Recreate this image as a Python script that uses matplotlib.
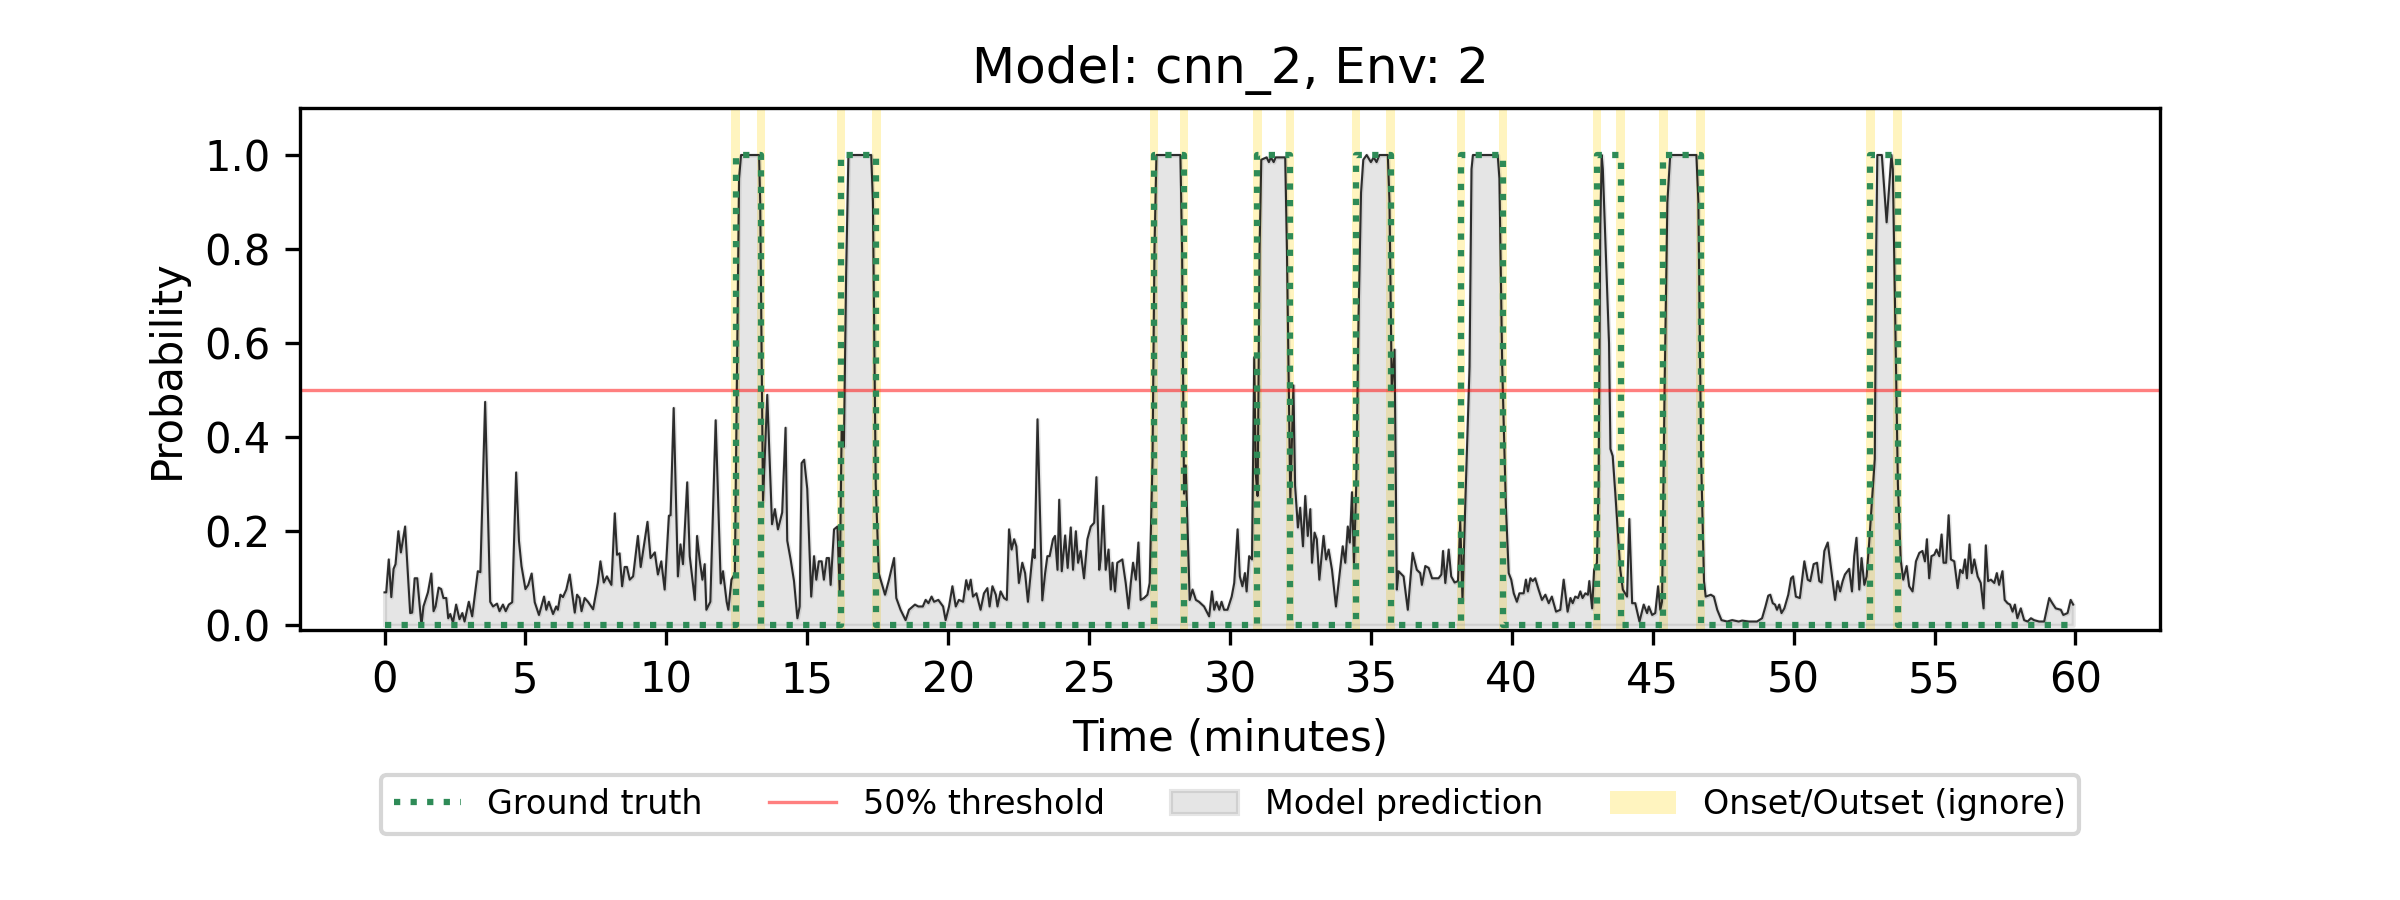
import numpy as np
import matplotlib
matplotlib.use("Agg")
import matplotlib.pyplot as plt

# Ground-truth events (minutes): onset / offset
onsets = [12.46, 16.2, 27.3, 30.97, 34.47, 38.2, 43.03, 45.38, 52.72]
offsets = [13.36, 17.45, 28.36, 32.12, 35.7, 39.69, 43.86, 46.7, 53.69]

# Model prediction (time in minutes, probability)
pred_t = [
    0.0, 0.06, 0.15, 0.24, 0.32, 0.39, 0.49, 0.58, 0.73, 0.91, 0.98, 1.07, 1.16, 1.31, 1.38,
    1.54, 1.66, 1.74, 1.81, 1.92, 2.01, 2.09, 2.19, 2.26, 2.33, 2.43, 2.54, 2.66, 2.76, 2.84,
    2.99, 3.11, 3.31, 3.40, 3.57, 3.75, 3.85, 3.99, 4.08, 4.2, 4.3, 4.41, 4.53, 4.67, 4.77,
    4.86, 5.0, 5.1, 5.22, 5.33, 5.48, 5.66, 5.74, 5.83, 5.98, 6.09, 6.15, 6.24, 6.33, 6.45,
    6.57, 6.75, 6.83, 6.92, 6.99, 7.1, 7.22, 7.4, 7.57, 7.66, 7.78, 7.89, 8.05, 8.17, 8.25,
    8.34, 8.43, 8.52, 8.6, 8.7, 8.82, 8.99, 9.09, 9.2, 9.33, 9.44, 9.59, 9.7, 9.82, 9.94,
    10.09, 10.15, 10.26, 10.41, 10.5, 10.59, 10.74, 10.83, 11.01, 11.09, 11.18, 11.28, 11.36, 11.42, 11.56,
    11.75, 11.93, 12.01, 12.14, 12.2, 12.31, 12.43, 12.5, 12.58, 12.65, 13.29, 13.33, 13.43, 13.58, 13.75,
    13.85, 13.96, 14.11, 14.23, 14.29, 14.41, 14.53, 14.65, 14.73, 14.8, 14.89, 15.0, 15.14, 15.24, 15.32,
    15.41, 15.51, 15.59, 15.69, 15.77, 15.83, 15.95, 16.07, 16.15, 16.22, 16.3, 16.38, 16.46, 17.27, 17.33,
    17.43, 17.54, 17.76, 17.9, 18.08, 18.16, 18.31, 18.49, 18.61, 18.82, 18.94, 19.1, 19.2, 19.3, 19.41,
    19.5, 19.65, 19.82, 19.91, 20.03, 20.15, 20.27, 20.38, 20.53, 20.64, 20.72, 20.8, 20.88, 21.0, 21.15,
    21.27, 21.39, 21.47, 21.57, 21.69, 21.75, 21.86, 21.98, 22.08, 22.16, 22.25, 22.34, 22.42, 22.51, 22.63,
    22.73, 22.83, 22.93, 23.01, 23.07, 23.17, 23.34, 23.44, 23.52, 23.6, 23.72, 23.79, 23.88, 23.94, 24.03,
    24.15, 24.24, 24.35, 24.43, 24.53, 24.61, 24.7, 24.82, 24.94, 25.06, 25.18, 25.26, 25.36, 25.41, 25.5,
    25.59, 25.69, 25.77, 25.83, 25.92, 26.0, 26.18, 26.3, 26.4, 26.48, 26.56, 26.66, 26.75, 26.83, 26.95,
    27.07, 27.15, 27.25, 27.32, 27.39, 28.24, 28.3, 28.37, 28.43, 28.57, 28.67, 28.79, 28.9, 29.08, 29.26,
    29.36, 29.44, 29.52, 29.62, 29.7, 29.79, 29.91, 30.06, 30.15, 30.27, 30.35, 30.44, 30.53, 30.59, 30.68,
    30.78, 30.86, 30.92, 30.98, 31.05, 31.11, 31.3, 31.38, 31.45, 31.55, 31.62, 31.96, 32.02, 32.14, 32.25,
    32.31, 32.41, 32.49, 32.59, 32.67, 32.76, 32.85, 32.91, 33.0, 33.08, 33.17, 33.32, 33.41, 33.5, 33.62,
    33.76, 33.88, 34.0, 34.09, 34.18, 34.25, 34.33, 34.4, 34.48, 34.56, 34.65, 34.73, 34.85, 35.0, 35.1,
    35.2, 35.3, 35.6, 35.66, 35.74, 35.84, 35.92, 35.98, 36.16, 36.31, 36.48, 36.63, 36.75, 36.81, 36.93,
    37.05, 37.17, 37.4, 37.5, 37.56, 37.64, 37.76, 37.85, 37.97, 38.09, 38.17, 38.25, 38.36, 38.5, 38.57,
    38.62, 39.5, 39.56, 39.66, 39.79, 39.89, 39.98, 40.07, 40.18, 40.27, 40.42, 40.5, 40.57, 40.66, 40.74,
    40.83, 40.95, 41.07, 41.19, 41.31, 41.42, 41.57, 41.72, 41.84, 41.98, 42.08, 42.16, 42.25, 42.35, 42.43,
    42.51, 42.61, 42.7, 42.75, 42.85, 42.92, 43.02, 43.08, 43.14, 43.19, 43.23, 43.45, 43.5, 43.58, 43.67,
    43.77, 43.85, 43.94, 44.09, 44.17, 44.27, 44.38, 44.53, 44.68, 44.8, 44.86, 44.98, 45.09, 45.19, 45.27,
    45.33, 45.42, 45.52, 45.62, 46.55, 46.62, 46.72, 46.82, 46.88, 47.06, 47.17, 47.29, 47.44, 47.64, 47.82,
    48.05, 48.17, 48.41, 48.7, 48.88, 49.0, 49.1, 49.17, 49.26, 49.34, 49.41, 49.49, 49.57, 49.67, 49.81,
    49.91, 49.98, 50.08, 50.22, 50.38, 50.5, 50.59, 50.71, 50.83, 50.91, 50.99, 51.09, 51.21, 51.35, 51.47,
    51.56, 51.65, 51.74, 51.82, 51.97, 52.07, 52.15, 52.23, 52.33, 52.41, 52.51, 52.59, 52.68, 52.8, 52.88,
    52.93, 52.97, 53.13, 53.3, 53.47, 53.52, 53.62, 53.7, 53.8, 53.89, 54.01, 54.1, 54.22, 54.34, 54.46,
    54.57, 54.66, 54.73, 54.81, 54.89, 54.99, 55.07, 55.17, 55.25, 55.32, 55.41, 55.5, 55.58, 55.7, 55.82,
    55.91, 56.0, 56.08, 56.15, 56.24, 56.32, 56.41, 56.53, 56.64, 56.74, 56.82, 56.9, 57.0, 57.12, 57.21,
    57.29, 57.41, 57.49, 57.59, 57.68, 57.77, 57.85, 57.94, 58.06, 58.18, 58.3, 58.42, 58.53, 58.71, 58.89,
    59.07, 59.18, 59.3, 59.48, 59.57, 59.72, 59.83, 59.92,
]
pred_p = [
    0.07, 0.07, 0.14, 0.06, 0.12, 0.13, 0.2, 0.155, 0.21, 0.026, 0.027, 0.1, 0.1, 0.0, 0.04,
    0.07, 0.11, 0.03, 0.04, 0.08, 0.077, 0.058, 0.058, 0.015, 0.024, 0.006, 0.044, 0.013, 0.026, 0.008,
    0.05, 0.019, 0.115, 0.113, 0.475, 0.05, 0.04, 0.046, 0.03, 0.044, 0.03, 0.044, 0.049, 0.325, 0.18,
    0.126, 0.077, 0.086, 0.11, 0.049, 0.022, 0.061, 0.033, 0.05, 0.024, 0.04, 0.033, 0.065, 0.06, 0.076,
    0.108, 0.027, 0.065, 0.058, 0.03, 0.058, 0.05, 0.034, 0.09, 0.136, 0.091, 0.104, 0.086, 0.238, 0.15,
    0.153, 0.083, 0.124, 0.124, 0.097, 0.104, 0.19, 0.124, 0.168, 0.22, 0.143, 0.155, 0.108, 0.136, 0.076,
    0.233, 0.234, 0.462, 0.104, 0.172, 0.13, 0.304, 0.147, 0.054, 0.19, 0.14, 0.097, 0.13, 0.033, 0.05,
    0.436, 0.089, 0.115, 0.05, 0.033, 0.097, 0.11, 0.5, 0.95, 1.0, 1.0, 0.9, 0.265, 0.49, 0.215,
    0.247, 0.204, 0.24, 0.42, 0.18, 0.14, 0.094, 0.015, 0.04, 0.345, 0.352, 0.29, 0.061, 0.147, 0.097,
    0.136, 0.136, 0.097, 0.143, 0.143, 0.086, 0.204, 0.21, 0.072, 0.42, 0.38, 0.75, 1.0, 1.0, 0.9,
    0.3, 0.11, 0.065, 0.097, 0.143, 0.058, 0.033, 0.011, 0.033, 0.044, 0.04, 0.04, 0.054, 0.047, 0.061,
    0.05, 0.054, 0.04, 0.011, 0.04, 0.083, 0.04, 0.054, 0.05, 0.096, 0.076, 0.097, 0.061, 0.068, 0.033,
    0.068, 0.079, 0.04, 0.083, 0.065, 0.04, 0.072, 0.058, 0.054, 0.204, 0.161, 0.183, 0.168, 0.09, 0.133,
    0.111, 0.05, 0.111, 0.161, 0.143, 0.438, 0.053, 0.111, 0.147, 0.147, 0.183, 0.19, 0.118, 0.267, 0.115,
    0.191, 0.122, 0.208, 0.118, 0.2, 0.133, 0.158, 0.1, 0.183, 0.21, 0.218, 0.315, 0.118, 0.14, 0.254,
    0.118, 0.161, 0.076, 0.133, 0.072, 0.133, 0.14, 0.09, 0.036, 0.09, 0.133, 0.097, 0.176, 0.054, 0.058,
    0.065, 0.09, 0.35, 0.8, 1.0, 1.0, 0.8, 0.28, 0.34, 0.054, 0.076, 0.054, 0.05, 0.04, 0.019,
    0.072, 0.033, 0.05, 0.033, 0.05, 0.033, 0.033, 0.061, 0.09, 0.204, 0.104, 0.083, 0.111, 0.072, 0.147,
    0.14, 0.57, 0.318, 0.275, 0.8, 0.99, 0.995, 0.985, 0.995, 0.985, 0.995, 0.995, 0.8, 0.268, 0.51,
    0.297, 0.208, 0.25, 0.168, 0.275, 0.19, 0.247, 0.133, 0.197, 0.183, 0.097, 0.19, 0.14, 0.161, 0.118,
    0.04, 0.104, 0.168, 0.133, 0.21, 0.176, 0.283, 0.133, 0.3, 0.65, 0.92, 0.99, 1.0, 0.985, 0.995,
    0.985, 1.0, 1.0, 0.9, 0.5, 0.586, 0.076, 0.115, 0.104, 0.033, 0.154, 0.118, 0.111, 0.086, 0.126,
    0.122, 0.1, 0.1, 0.108, 0.158, 0.09, 0.161, 0.104, 0.091, 0.094, 0.222, 0.054, 0.28, 0.55, 0.97,
    1.0, 1.0, 0.95, 0.55, 0.254, 0.111, 0.097, 0.068, 0.05, 0.068, 0.068, 0.097, 0.072, 0.1, 0.094,
    0.1, 0.076, 0.054, 0.065, 0.047, 0.061, 0.029, 0.033, 0.097, 0.029, 0.058, 0.047, 0.061, 0.058, 0.072,
    0.058, 0.068, 0.065, 0.094, 0.036, 0.118, 0.133, 0.3, 0.85, 1.0, 0.97, 0.6, 0.375, 0.36, 0.283,
    0.19, 0.118, 0.076, 0.061, 0.226, 0.047, 0.047, 0.008, 0.044, 0.026, 0.04, 0.022, 0.026, 0.083, 0.033,
    0.05, 0.5, 0.9, 1.0, 1.0, 0.9, 0.35, 0.094, 0.061, 0.065, 0.061, 0.033, 0.011, 0.008, 0.011,
    0.008, 0.01, 0.008, 0.008, 0.015, 0.04, 0.063, 0.065, 0.047, 0.044, 0.033, 0.044, 0.026, 0.036, 0.065,
    0.1, 0.104, 0.061, 0.058, 0.136, 0.097, 0.094, 0.13, 0.133, 0.094, 0.091, 0.158, 0.176, 0.111, 0.054,
    0.094, 0.072, 0.094, 0.108, 0.12, 0.072, 0.147, 0.186, 0.076, 0.143, 0.086, 0.104, 0.176, 0.283, 0.354,
    0.8, 1.0, 1.0, 0.857, 1.0, 0.97, 0.6, 0.3, 0.14, 0.097, 0.126, 0.083, 0.072, 0.136, 0.154,
    0.158, 0.136, 0.183, 0.1, 0.147, 0.15, 0.161, 0.147, 0.193, 0.133, 0.133, 0.234, 0.14, 0.136, 0.079,
    0.118, 0.111, 0.14, 0.1, 0.172, 0.111, 0.14, 0.104, 0.09, 0.036, 0.17, 0.094, 0.097, 0.09, 0.111,
    0.086, 0.115, 0.054, 0.047, 0.044, 0.029, 0.044, 0.015, 0.036, 0.011, 0.008, 0.015, 0.011, 0.008, 0.008,
    0.058, 0.047, 0.036, 0.033, 0.022, 0.026, 0.054, 0.044,
]

t_end = 60
edge_halfwidth = 0.15
model_name = "cnn_2"
env_id = 2

# step line for the ground truth
gt_t = [0]
gt_v = [0]
for s, e in zip(onsets, offsets):
    gt_t += [s, s, e, e]
    gt_v += [0, 1, 1, 0]
gt_t.append(t_end)
gt_v.append(0)

fig, ax = plt.subplots(figsize=(8, 3), dpi=300)

# onset/outset regions
for i, t in enumerate(onsets + offsets):
    ax.axvspan(t - edge_halfwidth, t + edge_halfwidth, color='gold', alpha=0.25, lw=0,
               label='Onset/Outset (ignore)' if i == 0 else None, zorder=0)

ax.fill_between(pred_t, 0, pred_p, color='gray', alpha=0.2, label='Model prediction', zorder=1)
ax.plot(pred_t, pred_p, color='black', lw=0.5, alpha=0.8, zorder=2)
ax.plot(gt_t, gt_v, color='seagreen', ls=':', lw=1.5, label='Ground truth', zorder=3)
ax.axhline(0.5, color='red', alpha=0.5, lw=0.8, label='50% threshold', zorder=2)

ax.set_xticks(np.arange(0, 61, 5))
ax.set_ylim(-0.01, 1.1)
ax.set_xlabel('Time (minutes)')
ax.set_ylabel('Probability')
ax.set_title(f'Model: {model_name}, Env: {env_id}')

handles, labels = ax.get_legend_handles_labels()
order = ['Ground truth', '50% threshold', 'Model prediction', 'Onset/Outset (ignore)']
hmap = dict(zip(labels, handles))
ax.legend([hmap[k] for k in order], order, loc='upper center', bbox_to_anchor=(0.5, -0.245),
          ncol=4, fontsize=8)

plt.subplots_adjust(bottom=0.3)
plt.savefig('out.png')
